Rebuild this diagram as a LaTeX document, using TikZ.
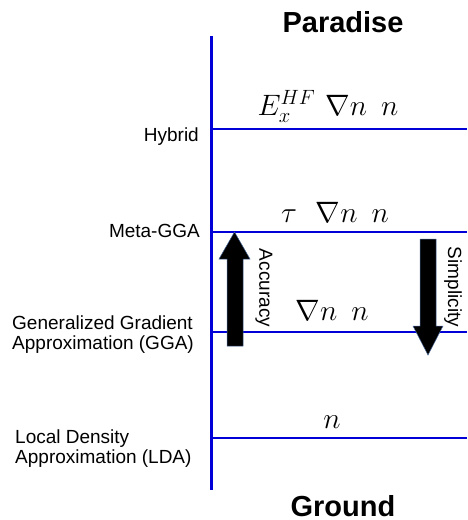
\documentclass[tikz,border=0pt]{standalone}
\usepackage{fix-cm}
\usepackage[no-math]{fontspec}
\setmainfont{Liberation Sans}
\definecolor{lvlblue}{RGB}{0,0,215}
\definecolor{aredge}{RGB}{70,100,150}
\begin{document}
\begin{tikzpicture}[x=1pt,y=-1pt,
  lvl/.style={draw=lvlblue,line width=2.6pt},
  lab/.style={font=\fontsize{19}{20.5}\selectfont, inner sep=0pt},
  ttl/.style={font=\bfseries\fontsize{29}{32}\selectfont, inner sep=0pt, anchor=base},
  mth/.style={font=\fontsize{29.5}{32}\selectfont, inner sep=0pt, anchor=base},
  bigarrow/.style={fill=black, draw=aredge, line width=0.5pt}]
\useasboundingbox (0,0) rectangle (467,520);
% axis
\coordinate (axT) at (211.5,36);
\coordinate (axB) at (211.5,490);
\draw[draw=lvlblue, line width=3pt] (axT) -- (axB);
% levels
\coordinate (hybL) at (211.5,129); \coordinate (hybR) at (467,129);
\coordinate (metL) at (211.5,232); \coordinate (metR) at (467,232);
\coordinate (ggaL) at (211.5,332); \coordinate (ggaR) at (467,332);
\coordinate (ldaL) at (211.5,438); \coordinate (ldaR) at (467,438);
\draw[lvl] (hybL) -- (hybR);
\draw[lvl] (metL) -- (metR);
\draw[lvl] (ggaL) -- (ggaR);
\draw[lvl] (ldaL) -- (ldaR);
% titles
\node[ttl] (paradise) at (343,32) {Paradise};
\node[ttl] (ground) at (343,516.5) {Ground};
% level labels
\node[lab, anchor=base east] (hyb) at (199,141) {Hybrid};
\node[lab, anchor=base east] (meta) at (200,237) {Meta-GGA};
\node[lab, anchor=north west, align=left] (gga) at (12,315.5) {Generalized Gradient\\Approximation (GGA)};
\node[lab, anchor=north west, align=left] (lda) at (15,429.5) {Local Density\\Approximation (LDA)};
% math
\node[mth] (mhyb) at (328,115) {$E_x^{HF}\hspace{10pt}\nabla n\hspace{14pt}n$};
\node[mth] (mmet) at (335,222) {$\tau\hspace{19pt}\nabla n\hspace{14pt}n$};
\node[mth] (mgga) at (332,320) {$\nabla n\hspace{14pt}n$};
\node[mth] (mlda) at (332,428) {$n$};
% arrows
\filldraw[bigarrow] (227,346) -- (227,259) -- (219,259) -- (234.5,232) -- (250,259) -- (243,259) -- (243,346) -- cycle;
\filldraw[bigarrow] (420,239) -- (420,326) -- (413,326) -- (428,355) -- (443,326) -- (436,326) -- (436,239) -- cycle;
\node[lab, rotate=-90] (acc) at (264,288) {Accuracy};
\node[lab, rotate=-90] (simp) at (453,287) {Simplicity};
\end{tikzpicture}
\end{document}
